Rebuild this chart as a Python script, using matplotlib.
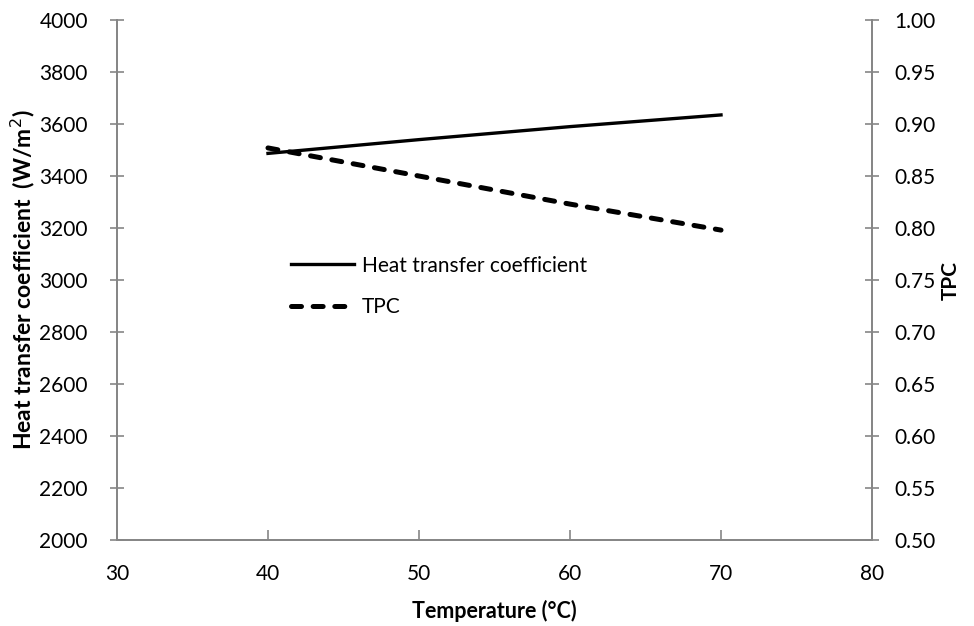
import matplotlib.pyplot as plt

plt.rcParams['font.family'] = ['Lato', 'DejaVu Sans']

temperature = [40, 50, 60, 70]
htc = [3487, 3540, 3590, 3635]
tpc = [0.877, 0.850, 0.823, 0.798]

x_ticks = [30, 40, 50, 60, 70, 80]
left_ticks = list(range(2000, 4001, 200))
right_ticks = [0.50, 0.55, 0.60, 0.65, 0.70, 0.75, 0.80, 0.85, 0.90, 0.95, 1.00]

grey = '#868686'
fs = 15

fig = plt.figure(figsize=(9.74, 6.26), dpi=100)
ax = fig.add_axes([0.1201, 0.1374, 0.7752, 0.8306])
ax2 = ax.twinx()

l1, = ax.plot(temperature, htc, color='black', lw=2.4, label='Heat transfer coefficient')
l2, = ax2.plot(temperature, tpc, color='black', lw=3.6, ls=(0, (2.0, 2.33)),
               dash_capstyle='round', label='TPC')

ax.set_xlim(30, 80)
ax.set_ylim(2000, 4000)
ax2.set_ylim(0.5, 1.0)
ax.set_xticks(x_ticks)
ax.set_yticks(left_ticks)
ax2.set_yticks(right_ticks)
ax2.set_yticklabels(['%.2f' % v for v in right_ticks])

for a in (ax, ax2):
    a.spines['top'].set_visible(False)
    for s in ('left', 'right', 'bottom'):
        a.spines[s].set_color(grey)
        a.spines[s].set_linewidth(1.3)
ax.tick_params(axis='y', direction='inout', length=10, width=1.2, color=grey, labelsize=fs, pad=16)
ax2.tick_params(axis='y', direction='inout', length=10, width=1.2, color=grey, labelsize=fs, pad=11)
ax.tick_params(axis='x', direction='in', length=7, width=1.2, color=grey, labelsize=fs, pad=17)

ax.set_xlabel('Temperature (°C)', fontsize=15.5, fontweight='bold', labelpad=12)
ax.set_ylabel('Heat transfer coefficient  (W/m$^2$)', fontsize=16.5, fontweight='bold', labelpad=2)
ax2.set_ylabel('TPC', fontsize=fs, fontweight='bold', labelpad=4)

ax.legend(handles=[l1, l2], loc='upper left', bbox_to_anchor=(0.206, 0.583), frameon=False,
          fontsize=fs, handlelength=3.0, handletextpad=0.4, labelspacing=1.05)

fig.savefig('out.png', dpi=100)
